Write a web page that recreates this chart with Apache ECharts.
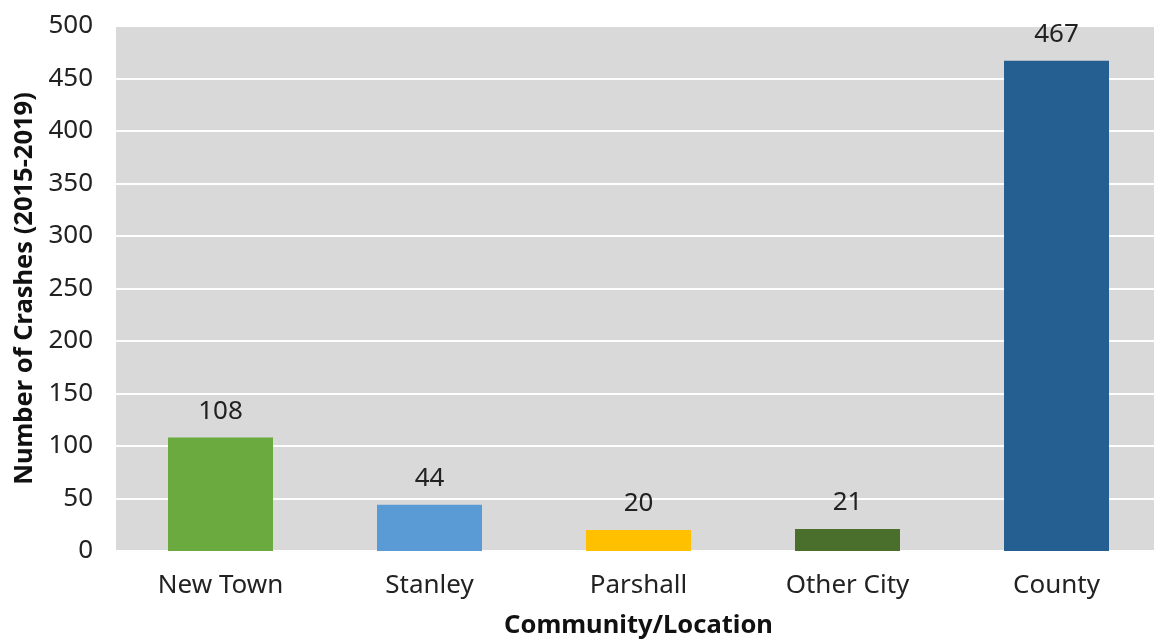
<!DOCTYPE html>
<html>
<head>
<meta charset="utf-8">
<script src="https://cdn.jsdelivr.net/npm/echarts@6/dist/echarts.min.js"></script>
<style>html,body{margin:0;padding:0;background:#fff;}#c{width:1154px;height:641px;}</style>
</head>
<body>
<div id="c"></div>
<script>
const categories = ["New Town", "Stanley", "Parshall", "Other City", "County"];
const crashes = [108, 44, 20, 21, 467];
const barColors = ["#6aaa3e", "#5b9bd5", "#ffc000", "#4a6f2c", "#255e91"];
const yTicks = { min: 0, max: 500, interval: 50 };

const chart = echarts.init(document.getElementById('c'));
const FONT = "Noto Sans";
chart.setOption({
  animation: false,
  grid: { left: 116, right: -7, top: 26, bottom: 90, show: true, backgroundColor: "#d9d9d9", borderWidth: 0, outerBoundsMode: "none", containLabel: false },
  xAxis: {
    type: "category",
    data: categories,
    name: "Community/Location",
    nameLocation: "middle",
    nameGap: 62,
    nameTextStyle: { fontFamily: FONT, fontWeight: "bold", fontSize: 25.5, color: "#111" },
    axisLine: { show: false },
    axisTick: { show: false },
    axisLabel: { fontFamily: FONT, fontSize: 26, color: "#222", margin: 22 }
  },
  yAxis: {
    type: "value",
    min: yTicks.min, max: yTicks.max, interval: yTicks.interval,
    name: "Number of Crashes (2015-2019)",
    nameLocation: "middle",
    nameGap: 77,
    nameTextStyle: { fontFamily: FONT, fontWeight: "bold", fontSize: 25.5, color: "#111" },
    axisLine: { show: false },
    axisTick: { show: false },
    axisLabel: { fontFamily: FONT, fontSize: 26, color: "#222", margin: 23 },
    splitLine: { show: true, lineStyle: { color: "#ffffff", width: 2 } }
  },
  series: [{
    type: "bar",
    data: crashes.map((v, i) => ({ value: v, itemStyle: { color: barColors[i] } })),
    barWidth: 105,
    label: { show: true, position: "top", distance: 13, fontFamily: FONT, fontSize: 26, color: "#222" }
  }]
});
</script>
</body>
</html>
